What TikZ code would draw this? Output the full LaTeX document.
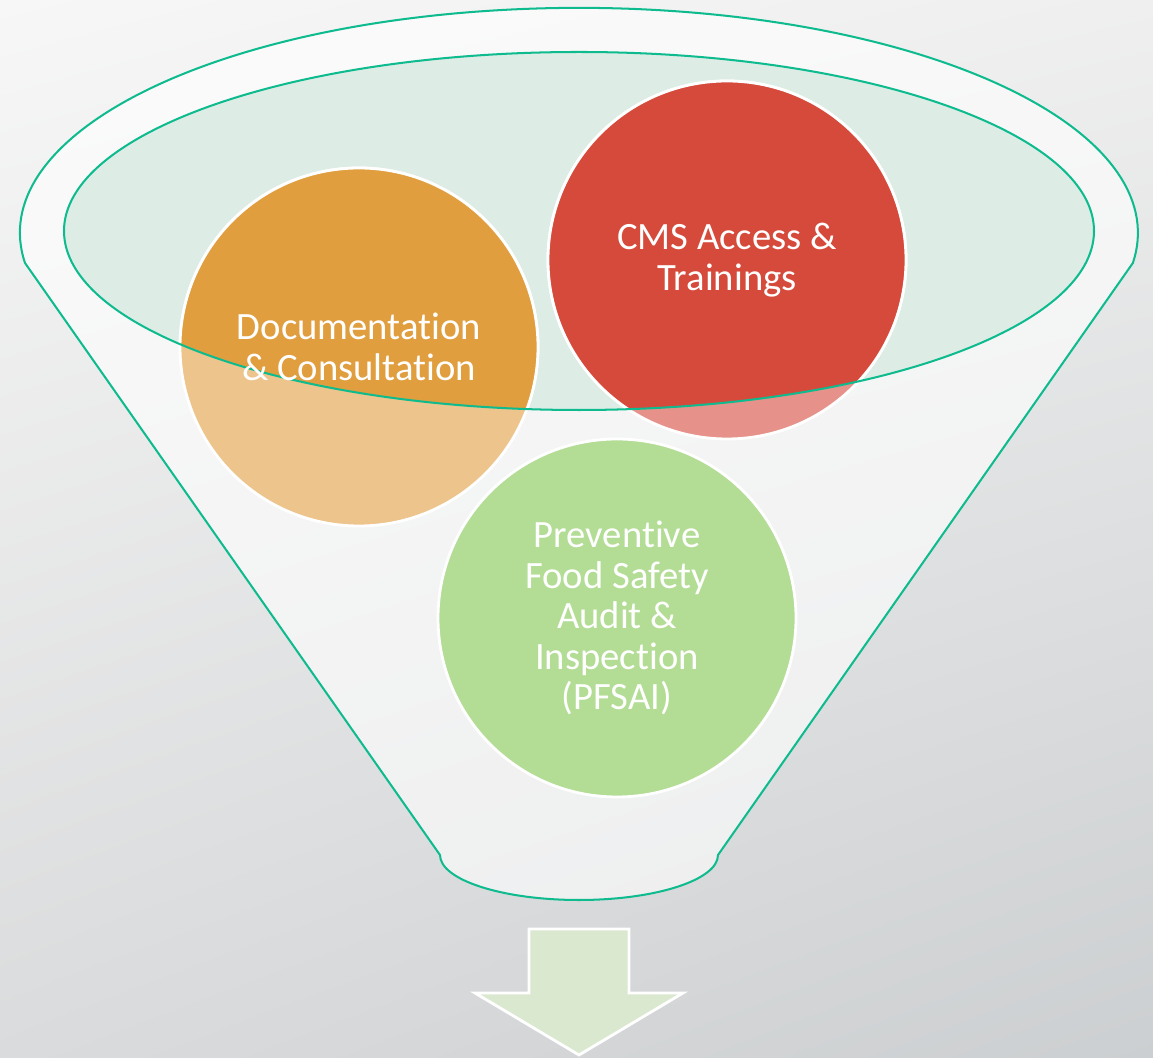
\documentclass[tikz,border=0pt]{standalone}
\usepackage{fontspec}
\setmainfont[Ligatures=NoCommon]{Carlito}
\usetikzlibrary{shadings}
\definecolor{bgTL}{HTML}{F7F7F7}
\definecolor{bgTR}{HTML}{EFEFEF}
\definecolor{bgBL}{HTML}{DADBDC}
\definecolor{bgBR}{HTML}{CCCFD1}
\definecolor{funnelline}{HTML}{0EBB8E}
\definecolor{mint}{HTML}{DDEDE5}
\definecolor{orangeD}{HTML}{E09E3F}
\definecolor{orangeL}{HTML}{EDC48C}
\definecolor{redD}{HTML}{D54A3B}
\definecolor{redL}{HTML}{E6928A}
\definecolor{greenL}{HTML}{B3DC95}
\definecolor{arrowfill}{HTML}{DAE8D0}
\tikzset{
  circ/.style={circle, draw=white, line width=1.6pt, minimum size=358*0.02cm, inner sep=0pt},
  lbl/.style={text=white, align=center, font=\fontsize{22pt}{23pt}\selectfont},
  funnelline/.style={draw=funnelline, line width=1.15pt},
}
\begin{document}
\begin{tikzpicture}[x=0.02cm,y=0.02cm]
\useasboundingbox (0,0) rectangle (1153,1058);
\shade[upper left=bgTL, upper right=bgTR, lower left=bgBL, lower right=bgBR] (0,0) rectangle (1153,1058);
% funnel
\path[fill=white, fill opacity=0.6, funnelline]
  (25,795) arc[start angle=187.7, end angle=-7.7, x radius=559, y radius=225]
  -- (718,203) arc[start angle=0, end angle=-180, x radius=139, y radius=45]
  -- cycle;
% inner ellipse fill
\fill[mint] (579,827) ellipse[x radius=515, y radius=179];
% circles (light)
\node[circ, fill=orangeL] (doc) at (359,711) {};
\node[circ, fill=redL] (cms) at (727,798) {};
\node[circ, fill=greenL] (pfs) at (617,440) {};
% saturated parts inside ellipse
\begin{scope}
  \clip (579,827) ellipse[x radius=515, y radius=179];
  \node[circ, fill=orangeD] at (doc) {};
  \node[circ, fill=redD] at (cms) {};
\end{scope}
% inner ellipse outline
\draw[funnelline] (579,827) ellipse[x radius=515, y radius=179];
% labels
\node[lbl] (docl) at (doc) {Documentation\\\& Consultation};
\node[lbl] (cmsl) at (cms) {CMS Access \&\\Trainings};
\node[lbl] (pfsl) at (pfs) {Preventive\\Food Safety\\Audit \&\\Inspection\\(PFSAI)};
% arrow
\draw[fill=arrowfill, draw=white, line width=1.6pt, line join=miter]
  (529,129) -- (629,129) -- (629,65) -- (683,65) -- (579,3) -- (475,65) -- (529,65) -- cycle;
\end{tikzpicture}
\end{document}
